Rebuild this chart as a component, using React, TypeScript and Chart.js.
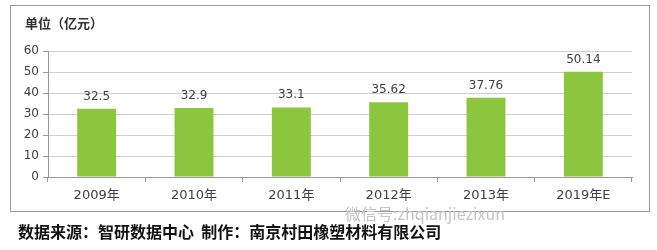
import React, { useEffect, useRef } from "react";
import { Chart, registerables } from "chart.js";

Chart.register(...registerables);

const categories = ["2009年", "2010年", "2011年", "2012年", "2013年", "2019年E"];
const values = [32.5, 32.9, 33.1, 35.62, 37.76, 50.14];
const valueLabels = ["32.5", "32.9", "33.1", "35.62", "37.76", "50.14"];
const yTicks = [0, 10, 20, 30, 40, 50, 60];
const unitTitle = "单位（亿元）";
const sourceText = "数据来源：智研数据中心  制作：南京村田橡塑材料有限公司";
const watermark = "微信号:zhqianjiezixun";

const labelPlugin = {
  id: "valueLabels",
  afterDatasetsDraw(chart: any) {
    const ctx = chart.ctx;
    const meta = chart.getDatasetMeta(0);
    ctx.save();
    ctx.font = "12px 'DejaVu Sans'";
    ctx.fillStyle = "#404040";
    ctx.textAlign = "center";
    ctx.textBaseline = "alphabetic";
    meta.data.forEach((bar: any, i: number) => {
      ctx.fillText(valueLabels[i], bar.x, bar.y - 9);
    });
    ctx.restore();
  },
};

export default function App() {
  const ref = useRef<HTMLCanvasElement | null>(null);
  useEffect(() => {
    if (!ref.current) return;
    const chart = new Chart(ref.current, {
      type: "bar",
      data: {
        labels: categories,
        datasets: [
          {
            data: values,
            backgroundColor: "#8cc63f",
            borderWidth: 0,
            categoryPercentage: 1,
            barPercentage: 0.4,
          },
        ],
      },
      options: {
        animation: false,
        responsive: false,
        maintainAspectRatio: false,
        layout: { padding: { top: 51, right: 25, left: 0, bottom: 0 } },
        plugins: { legend: { display: false }, tooltip: { enabled: false } },
        scales: {
          x: {
            grid: {
              display: true,
              drawOnChartArea: false,
              drawTicks: true,
              tickLength: 5,
              color: "#999999",
              offset: true,
            },
            border: { display: true, color: "#999999", width: 1 },
            ticks: {
              font: { size: 13, family: "'DejaVu Sans', 'Noto Sans CJK SC'" },
              color: "#404040",
              padding: 6,
            },
            afterFit: (s: any) => {
              s.height = 73;
            },
          },
          y: {
            min: 0,
            max: 60,
            afterBuildTicks: (s: any) => {
              s.ticks = yTicks.map((v) => ({ value: v }));
            },
            grid: {
              color: "#cfcfcf",
              tickLength: 5,
              tickColor: "#999999",
            },
            border: { display: true, color: "#999999", width: 1 },
            ticks: {
              font: { size: 12, family: "'DejaVu Sans'" },
              color: "#404040",
              padding: 4,
            },
            afterFit: (s: any) => {
              s.width = 48;
            },
          },
        },
      },
      plugins: [labelPlugin],
    });
    return () => chart.destroy();
  }, []);

  return (
    <div style={{ position: "fixed", left: 0, top: 0, width: 657, height: 250, background: "#fff", overflow: "hidden" }}>
      <div
        style={{
          position: "absolute",
          left: 10,
          top: 5,
          width: 638,
          height: 205,
          border: "1.5px solid #9a9a9a",
        }}
      />
      <canvas ref={ref} width={657} height={250} style={{ position: "absolute", left: 0, top: 0 }} />
      <div
        style={{
          position: "absolute",
          left: 25,
          top: 14,
          fontFamily: "'Noto Sans CJK SC'",
          fontWeight: "bold",
          fontSize: 13,
          color: "#333",
          lineHeight: "18px",
          whiteSpace: "nowrap",
        }}
      >
        {unitTitle}
      </div>
      <div
        style={{
          position: "absolute",
          left: 345,
          top: 203,
          fontFamily: "'Noto Sans CJK SC', 'DejaVu Sans'",
          fontSize: 16,
          color: "#c4c4c4",
          lineHeight: "20px",
          whiteSpace: "nowrap",
        }}
      >
        {watermark}
      </div>
      <div
        style={{
          position: "absolute",
          left: 18,
          top: 221,
          fontFamily: "'Noto Sans CJK SC'",
          fontWeight: "bold",
          fontSize: 16,
          color: "#111",
          lineHeight: "20px",
          whiteSpace: "pre",
        }}
      >
        {sourceText}
      </div>
    </div>
  );
}
